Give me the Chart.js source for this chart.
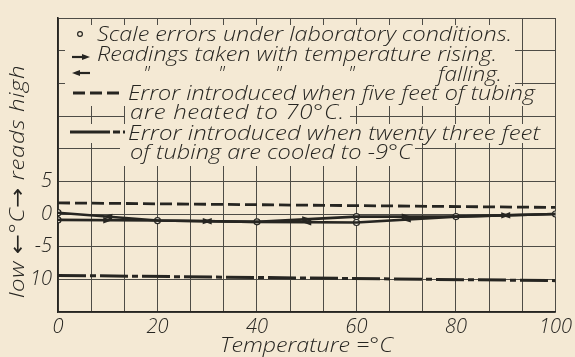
<!DOCTYPE html>
<html>
<head>
<meta charset="utf-8">
<script src="https://cdn.jsdelivr.net/npm/chart.js@4.4.1/dist/chart.umd.min.js"></script>
<style>
  html, body { margin: 0; padding: 0; background: #f4e9d4; }
</style>
</head>
<body>
<canvas id="tubingChart" width="575" height="357"></canvas>
<script>
// readings, °C of thermometer error against bath temperature
const labTemps = [0, 0, 20, 40, 60, 60, 80, 100];
const labErrors = [0.2, -0.9, -1.0, -1.2, -0.4, -1.3, -0.4, 0.0];

const risingTemps = [0, 20, 40, 60, 80, 100];
const risingErrors = [-0.9, -1.0, -1.2, -0.4, -0.4, 0.0];

const fallingTemps = [100, 80, 60, 40, 20, 0];
const fallingErrors = [0.0, -0.4, -1.3, -1.2, -1.0, 0.2];

const heatedTemps = [0, 100];
const heatedErrors = [1.7, 1.0];

const cooledTemps = [0, 100];
const cooledErrors = [-9.4, -10.2];

// y tick labels as lettered on the sheet
const yTickText = { '5': '5', '0': '0', '-5': '-5', '-10': '10' };

const legendLines = [
  'Scale errors under laboratory conditions.',
  'Readings taken with temperature rising.',
  'falling.',
  'Error introduced when five feet of tubing',
  'are heated to 70°C.',
  'Error introduced when twenty three feet',
  'of tubing are cooled to -9°C'
];
const xTitle = 'Temperature =°C';
const yTitle = 'low ←°C→ reads high';

const paper = '#f4e9d4';
const ink = '#262521';
const gridInk = '#4e4c46';
const FONT = "'Open Sans', 'DejaVu Sans', sans-serif";
const LETTER = '300 italic 20px ' + FONT;

function pts(xs, ys) {
  return xs.map((x, i) => ({ x: x, y: ys[i] }));
}

function arrowHead(ctx, x, y, angle, len, half) {
  ctx.save();
  ctx.translate(x, y);
  ctx.rotate(angle);
  ctx.beginPath();
  ctx.moveTo(len / 2, 0);
  ctx.lineTo(-len / 2, -half);
  ctx.lineTo(-len / 2, half);
  ctx.closePath();
  ctx.fill();
  ctx.restore();
}

// widen a line of lettering (a little stretch, then spacing) so it runs x0..x1
function letterLine(ctx, text, x0, x1, y) {
  ctx.save();
  ctx.letterSpacing = '0px';
  const w = ctx.measureText(text).width;
  const sx = Math.min(1.2, (x1 - x0) / w);
  const ls = Math.max(0, ((x1 - x0) / sx - w) / text.length);
  ctx.translate(x0, y);
  ctx.scale(sx, 1);
  ctx.letterSpacing = ls.toFixed(2) + 'px';
  ctx.fillText(text, 0, 0);
  ctx.restore();
}

// paper colour behind everything
const paperPlugin = {
  id: 'paper',
  beforeDraw(chart) {
    const ctx = chart.ctx;
    ctx.save();
    ctx.fillStyle = paper;
    ctx.fillRect(0, 0, chart.width, chart.height);
    ctx.restore();
  }
};

// arrowheads halfway along every segment of the rising / falling runs
const arrowPlugin = {
  id: 'segmentArrows',
  afterDatasetsDraw(chart) {
    const ctx = chart.ctx;
    ctx.save();
    ctx.fillStyle = ink;
    chart.data.datasets.forEach((ds, di) => {
      if (!ds.arrows) return;
      const pts = chart.getDatasetMeta(di).data;
      for (let i = 0; i < pts.length - 1; i++) {
        const a = pts[i], b = pts[i + 1];
        const ang = Math.atan2(b.y - a.y, b.x - a.x);
        arrowHead(ctx, (a.x + b.x) / 2, (a.y + b.y) / 2, ang, 9, 3.2);
      }
    });
    ctx.restore();
  }
};

// lettered key in the upper part of the grid, blanking the grid behind it
const keyPlugin = {
  id: 'letteredKey',
  beforeDatasetsDraw(chart) {
    const ctx = chart.ctx;
    ctx.save();
    ctx.fillStyle = paper;
    ctx.fillRect(65, 25, 450, 61);
    ctx.fillRect(65, 86, 475, 20);
    ctx.fillRect(125, 106, 225, 18);
    ctx.fillRect(65, 124, 475, 19);
    ctx.fillRect(120, 143, 295, 23);

    ctx.fillStyle = ink;
    ctx.strokeStyle = ink;
    ctx.font = LETTER;
    ctx.textBaseline = 'alphabetic';
    ctx.textAlign = 'left';

    // row 1: open circle
    ctx.beginPath();
    ctx.arc(80, 34, 2.4, 0, Math.PI * 2);
    ctx.lineWidth = 1.2;
    ctx.stroke();
    letterLine(ctx, legendLines[0], 97, 512, 41);

    // row 2: arrow right
    ctx.lineWidth = 2.2;
    ctx.beginPath(); ctx.moveTo(72, 57); ctx.lineTo(86, 57); ctx.stroke();
    arrowHead(ctx, 86, 57, 0, 8, 3);
    letterLine(ctx, legendLines[1], 97, 497, 61);

    // row 3: arrow left with ditto marks
    ctx.beginPath(); ctx.moveTo(76, 73); ctx.lineTo(90, 73); ctx.stroke();
    arrowHead(ctx, 76, 73, Math.PI, 8, 3);
    [143, 218, 275, 348].forEach(x => ctx.fillText('"', x, 81));
    letterLine(ctx, legendLines[2], 438, 502, 81);

    // row 4: dashed
    ctx.lineWidth = 2.8;
    ctx.setLineDash([12, 5]);
    ctx.beginPath(); ctx.moveTo(73, 93); ctx.lineTo(124, 93); ctx.stroke();
    ctx.setLineDash([]);
    letterLine(ctx, legendLines[3], 128, 535, 100);
    letterLine(ctx, legendLines[4], 130, 345, 119);

    // row 6: dash-dot
    ctx.setLineDash([40, 3, 7, 3]);
    ctx.beginPath(); ctx.moveTo(70, 132); ctx.lineTo(125, 132); ctx.stroke();
    ctx.setLineDash([]);
    letterLine(ctx, legendLines[5], 128, 540, 140);
    letterLine(ctx, legendLines[6], 130, 412, 159);

    // x axis title
    letterLine(ctx, xTitle, 220, 393, 352);

    // y axis title, lettered bottom to top
    ctx.translate(24, 298);
    ctx.rotate(-Math.PI / 2);
    letterLine(ctx, yTitle, 0, 233, 0);
    ctx.restore();
  }
};

new Chart(document.getElementById('tubingChart'), {
  type: 'scatter',
  data: {
    datasets: [
      {
        label: 'heated',
        data: pts(heatedTemps, heatedErrors),
        showLine: true,
        borderColor: ink,
        borderWidth: 2.8,
        borderDash: [12, 5],
        pointRadius: 0
      },
      {
        label: 'cooled',
        data: pts(cooledTemps, cooledErrors),
        showLine: true,
        borderColor: ink,
        borderWidth: 3,
        borderDash: [28, 4, 6, 4],
        pointRadius: 0
      },
      {
        label: 'rising',
        data: pts(risingTemps, risingErrors),
        showLine: true,
        arrows: true,
        borderColor: ink,
        borderWidth: 2.6,
        pointRadius: 0
      },
      {
        label: 'falling',
        data: pts(fallingTemps, fallingErrors),
        showLine: true,
        arrows: true,
        borderColor: ink,
        borderWidth: 2.6,
        pointRadius: 0
      },
      {
        label: 'laboratory',
        data: pts(labTemps, labErrors),
        showLine: false,
        pointRadius: 3,
        pointBorderWidth: 1.2,
        pointBackgroundColor: '#fbf6ea',
        pointBorderColor: ink
      }
    ]
  },
  options: {
    responsive: false,
    animation: false,
    events: [],
    layout: { padding: { top: 10, right: 11, left: 0, bottom: 0 } },
    plugins: {
      legend: { display: false },
      tooltip: { enabled: false }
    },
    scales: {
      x: {
        type: 'linear',
        min: 0,
        max: 100,
        afterFit: s => { s.height = 45; },
        grid: { color: gridInk, lineWidth: 1, drawTicks: false },
        border: { color: ink, width: 1.6 },
        ticks: {
          stepSize: 20 / 3,
          autoSkip: false,
          maxRotation: 0,
          padding: 3,
          color: ink,
          font: { family: FONT, style: 'italic', weight: '300', size: 20 },
          callback: v => Math.abs(v - Math.round(v / 20) * 20) < 0.01 ? String(Math.round(v)) : ''
        }
      },
      y: {
        type: 'linear',
        min: -15,
        max: 30,
        afterFit: s => { s.width = 58; },
        grid: { color: gridInk, lineWidth: 1, drawTicks: false },
        border: { color: ink, width: 1.6 },
        ticks: {
          stepSize: 5,
          autoSkip: false,
          padding: 6,
          color: ink,
          font: { family: FONT, style: 'italic', weight: '300', size: 20 },
          callback: v => yTickText[String(v)] || ''
        }
      }
    }
  },
  plugins: [paperPlugin, keyPlugin, arrowPlugin]
});
</script>
</body>
</html>
